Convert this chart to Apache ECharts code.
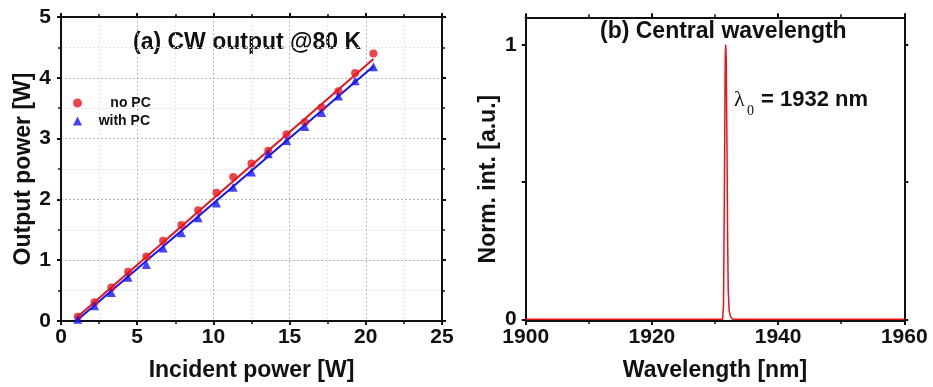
<!DOCTYPE html>
<html><head><meta charset="utf-8">
<script src="https://cdn.jsdelivr.net/npm/echarts@6/dist/echarts.min.js"></script>
<style>html,body{margin:0;padding:0;background:#fff}#c{width:933px;height:387px}</style>
</head><body><div id="c"></div>
<script>
// ---- Panel (a) data ----
const incidentPower = [1.1, 2.2, 3.3, 4.4, 5.6, 6.7, 7.9, 9.0, 10.2, 11.3, 12.5, 13.6, 14.8, 16.0, 17.1, 18.2, 19.3, 20.5];
const outNoPC   = [0.07, 0.31, 0.55, 0.81, 1.06, 1.32, 1.58, 1.82, 2.11, 2.37, 2.59, 2.80, 3.07, 3.27, 3.51, 3.78, 4.08, 4.40];
const outWithPC = [0.03, 0.25, 0.47, 0.72, 0.93, 1.20, 1.45, 1.70, 1.94, 2.20, 2.45, 2.75, 2.97, 3.20, 3.43, 3.70, 3.95, 4.18];
const fitX        = [1.0, 20.5];
const fitNoPC     = [0.05, 4.31];
const fitWithPC   = [0.00, 4.19];
const xTicksA = [0, 5, 10, 15, 20, 25];
const yTicksA = [0, 1, 2, 3, 4, 5];
// ---- Panel (b) data ----
const wavelength = [1900, 1931.2, 1931.35, 1931.5, 1931.62, 1931.7, 1931.78, 1931.9, 1932.0, 1932.1, 1932.25, 1932.5, 1932.8, 1934.4, 1934.6, 1934.8, 1960];
const normInt    = [0, 0, 0.05, 0.5, 0.95, 1.0, 0.95, 0.62, 0.3, 0.1, 0.03, 0.008, 0, 0, 0.005, 0, 0];
const xTicksB = [1900, 1920, 1940, 1960];
const yTicksB = [0, 1];

const RED = '#e8141c', BLUE = '#1414f5', INK = '#111';
const FONT = 'Liberation Sans';
const zip = (a, b) => a.map((v, i) => [v, b[i]]);

const lbl = (show, m) => ({show, color: INK, fontFamily: FONT, fontWeight: 'bold', fontSize: 21, margin: m || 6,
  formatter: v => String(v)});
const line = {show: true, onZero: false, lineStyle: {color: INK, width: 2}};
const tick = {show: true, inside: false, length: 4, lineStyle: {color: INK, width: 2}};
const minor = {show: true, splitNumber: 2, length: 3, lineStyle: {color: INK, width: 1.5}};
const nameStyle = {color: INK, fontFamily: FONT, fontWeight: 'bold', fontSize: 23};

const chart = echarts.init(document.getElementById('c'), null, {renderer: 'canvas'});
chart.setOption({
  animation: false,
  backgroundColor: '#fff',
  grid: [
    {left: 61, right: 491, top: 17, bottom: 64.5, containLabel: false},
    {left: 525.7, right: 28.7, top: 17.3, bottom: 64.7, containLabel: false}
  ],
  xAxis: [
    {type: 'value', gridIndex: 0, position: 'bottom', min: xTicksA[0], max: xTicksA[xTicksA.length-1], interval: 5,
     axisLine: line, axisTick: tick, minorTick: minor, axisLabel: lbl(true, 6),
     splitLine: {show: true, lineStyle: {color: '#b8b8b8', type: [2, 2], width: 1}},
     minorSplitLine: {show: true, lineStyle: {color: '#e4e4e4', type: [2, 2], width: 1}},
     name: 'Incident power [W]', nameLocation: 'middle', nameGap: 38, nameTextStyle: nameStyle},
    {type: 'value', gridIndex: 0, position: 'top', min: 0, max: 25, interval: 5,
     axisLine: line, axisTick: tick, minorTick: minor, axisLabel: lbl(false), splitLine: {show: false}},
    {type: 'value', gridIndex: 1, position: 'bottom', min: xTicksB[0], max: xTicksB[xTicksB.length-1], interval: 20,
     axisLine: line, axisTick: tick, minorTick: minor, axisLabel: lbl(true, 6), splitLine: {show: false},
     name: 'Wavelength [nm]', nameLocation: 'middle', nameGap: 38, nameTextStyle: nameStyle},
    {type: 'value', gridIndex: 1, position: 'top', min: 1900, max: 1960, interval: 20,
     axisLine: line, axisTick: tick, minorTick: minor, axisLabel: lbl(false), splitLine: {show: false}}
  ],
  yAxis: [
    {type: 'value', gridIndex: 0, position: 'left', min: yTicksA[0], max: yTicksA[yTicksA.length-1], interval: 1,
     axisLine: line, axisTick: tick, minorTick: minor, axisLabel: lbl(true, 10),
     splitLine: {show: true, lineStyle: {color: '#b8b8b8', type: [2, 2], width: 1}},
     minorSplitLine: {show: true, lineStyle: {color: '#e4e4e4', type: [2, 2], width: 1}},
     name: 'Output power [W]', nameLocation: 'middle', nameGap: 26, nameTextStyle: nameStyle},
    {type: 'value', gridIndex: 0, position: 'right', min: 0, max: 5, interval: 1,
     axisLine: line, axisTick: tick, minorTick: minor, axisLabel: lbl(false), splitLine: {show: false}},
    {type: 'value', gridIndex: 1, position: 'left', min: -0.006, max: 1.1,
     axisLine: line, axisTick: Object.assign({}, tick, {customValues: [0, 0.5, 1]}),
     axisLabel: Object.assign(lbl(true, 9), {customValues: yTicksB}), splitLine: {show: false},
     name: 'Norm. int. [a.u.]', nameLocation: 'middle', nameGap: 26,
     nameTextStyle: Object.assign({}, nameStyle, {padding: [0, 20, 0, 0]})},
    {type: 'value', gridIndex: 1, position: 'right', min: -0.006, max: 1.1,
     axisLine: line, axisTick: Object.assign({}, tick, {customValues: [0, 0.5, 1]}),
     axisLabel: lbl(false), splitLine: {show: false}}
  ],
  legend: {
    orient: 'vertical', left: 68, top: 91, itemWidth: 9, itemHeight: 9, itemGap: 4,
    data: [{name: 'no PC', icon: 'circle'}, {name: 'with PC', icon: 'triangle'}],
    formatter: n => n === 'no PC' ? '      no PC' : '   with PC',
    textStyle: {color: INK, fontFamily: FONT, fontWeight: 'bold', fontSize: 14}
  },
  series: [
    {name: 'fit no PC', type: 'line', xAxisIndex: 0, yAxisIndex: 0, data: zip(fitX, fitNoPC), symbol: 'none',
     lineStyle: {color: RED, width: 2}, z: 2, silent: true},
    {name: 'fit with PC', type: 'line', xAxisIndex: 0, yAxisIndex: 0, data: zip(fitX, fitWithPC), symbol: 'none',
     lineStyle: {color: BLUE, width: 2}, z: 2, silent: true},
    {name: 'no PC', type: 'scatter', xAxisIndex: 0, yAxisIndex: 0, data: zip(incidentPower, outNoPC),
     symbol: 'circle', symbolSize: 8, itemStyle: {color: RED}, z: 3},
    {name: 'with PC', type: 'scatter', xAxisIndex: 0, yAxisIndex: 0, data: zip(incidentPower, outWithPC),
     symbol: 'triangle', symbolSize: 9, itemStyle: {color: BLUE}, z: 3},
    {name: 'spectrum', type: 'line', xAxisIndex: 2, yAxisIndex: 2, data: zip(wavelength, normInt), symbol: 'none',
     lineStyle: {color: RED, width: 1.5}, z: 3}
  ],
  graphic: [
    {type: 'text', left: 133, top: 31, style: {text: '(a) CW output @80 K', fill: INK, font: 'bold 23px "Liberation Sans"'}},
    {type: 'text', left: 600, top: 20, style: {text: '(b) Central wavelength', fill: INK, font: 'bold 23px "Liberation Sans"'}},
    {type: 'text', left: 734, top: 89, style: {text: 'λ', fill: INK, font: '22px "Liberation Serif"'}},
    {type: 'text', left: 747, top: 104, style: {text: '0', fill: INK, font: '14px "Liberation Serif"'}},
    {type: 'text', left: 761, top: 89, style: {text: '= 1932 nm', fill: INK, font: 'bold 22px "Liberation Sans"'}}
  ]
});
</script></body></html>
